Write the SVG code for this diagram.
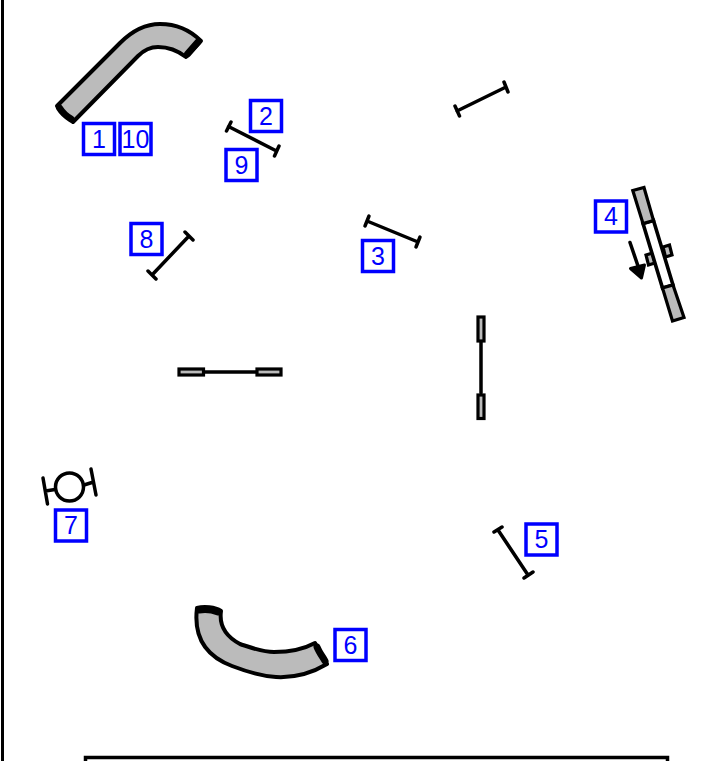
<svg xmlns="http://www.w3.org/2000/svg" width="713" height="761" viewBox="0 0 713 761">
<style>
.o{stroke:#000;stroke-width:3.500;fill:none;stroke-linecap:round;stroke-linejoin:round}
.t{stroke:#000;stroke-width:4;fill:#bbb;stroke-linejoin:round}
.g{stroke:#000;stroke-width:3.200;fill:#bbb}
.w{stroke:#000;stroke-width:3.600;fill:#fff}
.k{fill:#000;stroke:#000;stroke-width:3;stroke-linejoin:round}
.c{fill:none;stroke:#000;stroke-width:7;stroke-linecap:round}
.b{fill:#fff;stroke:#00f;stroke-width:3.500}
.l{font-family:"Liberation Sans",Arial,sans-serif;font-size:25px;fill:#00f;text-anchor:middle}
</style>
<defs>
<g id="lab"><rect class="b" x="-15.500" y="-15.500" width="31" height="31"/></g>
</defs>
<rect width="713" height="761" fill="#fff"/>
<g id="frame">
<path d="M2.500 0V761" stroke="#000" stroke-width="3" fill="none"/>
<rect x="85.500" y="757.500" width="582" height="20" fill="#fff" stroke="#000" stroke-width="3.500"/>
</g>
<g id="tube-1">
<path class="t" d="M57 106L120 43C132 31 145 24 160 24C177 24 191 31 201 41L186 57C177 50 169 47 158 47C150 47 144 50 138 56L73 122Z"/>
<path class="c" d="M59.500 108C62 112 66 116 71 119"/>
<path class="c" d="M198 42L187.500 54"/>
</g>
<g id="line-2-9"><path class="o" d="M228.500 126.500L276.500 151M231 122L226.500 131M279 146L274.500 156"/></g>
<g id="line-top"><path class="o" d="M457 111L506 87M455 106L459.500 116M504 82L508 92"/></g>
<g id="line-3"><path class="o" d="M367 221L418 242M369 216L365 226M420 237L416 247"/></g>
<g id="line-8"><path class="o" d="M152 275L189 236M148 271L156 279M185 232L193 240"/></g>
<g id="line-5"><path class="o" d="M498 530L528 575M494 532L502 527M524 578L533 572"/></g>
<g id="gate-4">
<path class="g" d="M646 255L652.500 253L655 263L648.500 265Z"/>
<path class="g" d="M663 247L669.500 245L672 255L665.500 257Z"/>
<path class="w" d="M643 223.500L653.500 220.500L673 285L662.500 288Z"/>
<path class="g" d="M632.800 190.500L644 187.500L653.500 220.500L643 223.500Z"/>
<path class="g" d="M662.500 288L673 285L684 317.500L672.500 321Z"/>
<path class="o" d="M630 242.500L638 266"/>
<path class="k" d="M630.500 268.500L644.500 265L641.500 278Z"/>
</g>
<g id="gate-h">
<path class="o" d="M204 372H256"/>
<rect class="g" x="179" y="369" width="24.500" height="6"/>
<rect class="g" x="257" y="369" width="24" height="6"/>
</g>
<g id="gate-v">
<path class="o" d="M481 341V393"/>
<rect class="g" x="478" y="317" width="6" height="24"/>
<rect class="g" x="478" y="395" width="6" height="23.500"/>
</g>
<g id="hoop-7">
<circle class="o" cx="69.500" cy="487" r="14"/>
<path class="o" d="M43 478L47.500 504M91 469L96 495M45.500 491L55 489.500M84 485L93.500 482"/>
</g>
<g id="tube-6">
<path class="t" d="M197 608C204 606 215 607 221 611C219 625 225 636 240 644C252 648 262 652 274 652C290 652 304 649 315 643L327 664C312 673 295 678 276 677C260 676 245 671 232 666C208 657 193 640 197 608Z"/>
<path class="c" d="M199 610C205 609 213 610 218 612"/>
<path class="c" d="M317 647C319 652 322 656 325 661"/>
</g>
<g id="label-1"><use href="#lab" x="99" y="139"/><text class="l" x="99" y="147.500">1</text></g>
<g id="label-10"><use href="#lab" x="135.500" y="139"/><text class="l" x="135.500" y="147.500">10</text></g>
<g id="label-2"><use href="#lab" x="266" y="116"/><text class="l" x="266" y="124.500">2</text></g>
<g id="label-9"><use href="#lab" x="241.500" y="165"/><text class="l" x="241.500" y="173.500">9</text></g>
<g id="label-3"><use href="#lab" x="378" y="256"/><text class="l" x="378" y="264.500">3</text></g>
<g id="label-4"><use href="#lab" x="611" y="216.500"/><text class="l" x="611" y="225">4</text></g>
<g id="label-5"><use href="#lab" x="541.500" y="539.500"/><text class="l" x="541.500" y="548">5</text></g>
<g id="label-6"><use href="#lab" x="350.500" y="645"/><text class="l" x="350.500" y="653.500">6</text></g>
<g id="label-7"><use href="#lab" x="71" y="525.500"/><text class="l" x="71" y="534">7</text></g>
<g id="label-8"><use href="#lab" x="146.500" y="239"/><text class="l" x="146.500" y="247.500">8</text></g>
</svg>
